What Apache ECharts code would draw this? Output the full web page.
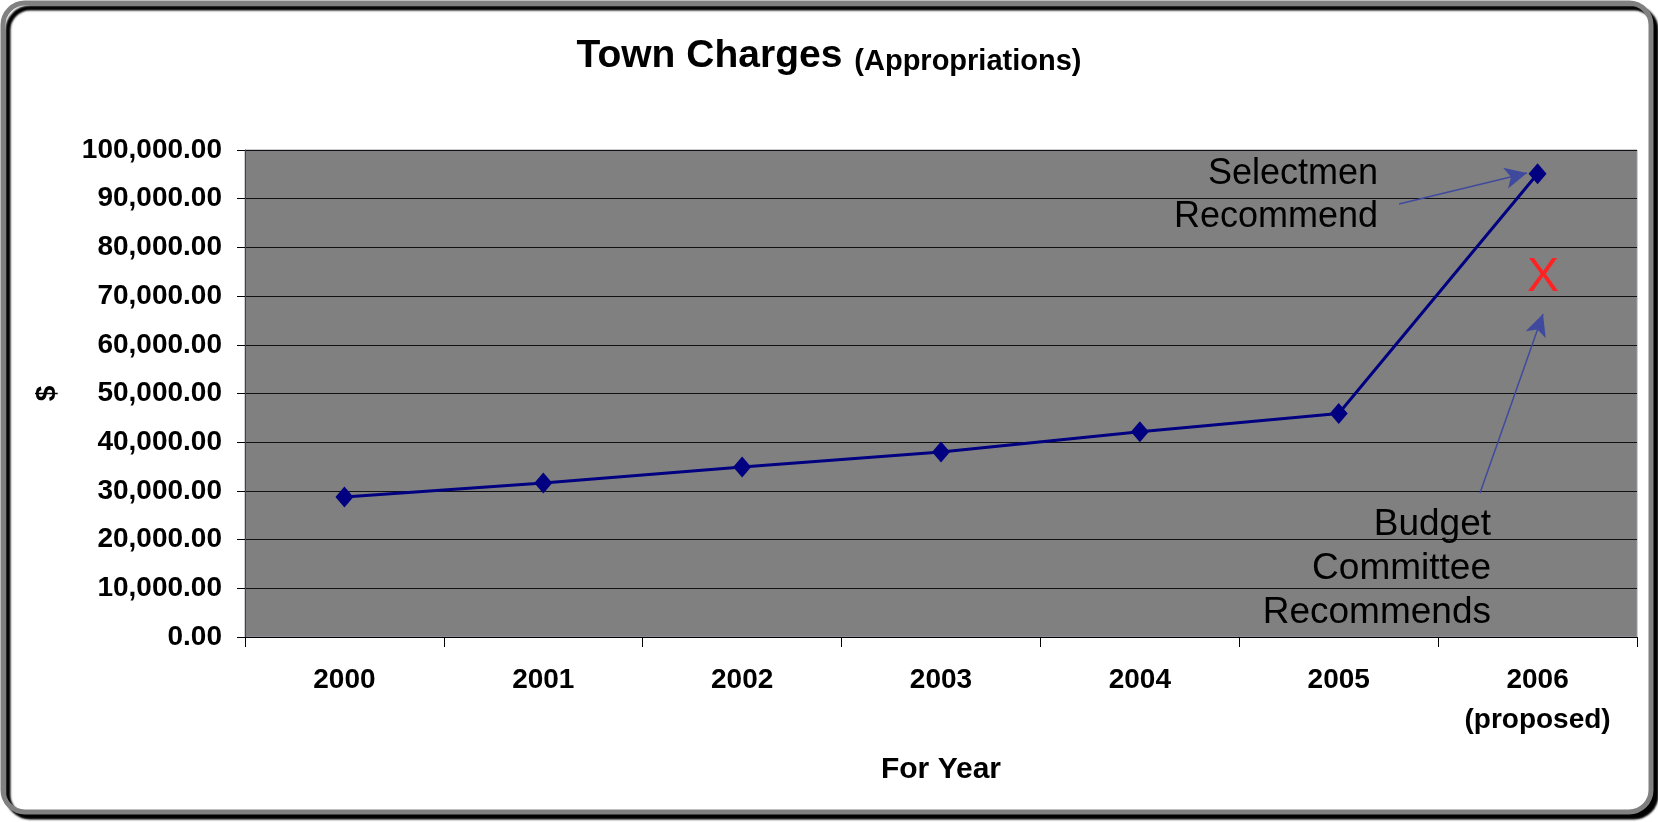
<!DOCTYPE html>
<html>
<head>
<meta charset="utf-8">
<script src="https://cdn.jsdelivr.net/npm/echarts@6/dist/echarts.min.js"></script>
<style>
html,body{margin:0;padding:0;background:#fff;}
#main{width:1658px;height:822px;}
</style>
</head>
<body>
<div id="main"></div>
<script>
// Data
const categories = ['2000', '2001', '2002', '2003', '2004', '2005', '2006\n(proposed)'];
const townCharges = [28770, 31640, 34920, 37990, 42150, 45880, 95120];
const yMin = 0, yMax = 100000, yStep = 10000;

function fmt(v) {
  const s = Math.round(v).toString().replace(/\B(?=(\d{3})+(?!\d))/g, ',');
  return s + '.00';
}

const FONT = '"Liberation Sans", Arial, Helvetica, sans-serif';
const chart = echarts.init(document.getElementById('main'), null, {renderer: 'canvas'});

const option = {
  animation: false,
  backgroundColor: '#ffffff',
  title: {
    left: 'center',
    top: 32,
    text: '{a|Town Charges}{s| }{b|(Appropriations)}',
    textStyle: {
      rich: {
        a: {fontFamily: FONT, fontWeight: 'bold', fontSize: 39, color: '#000'},
        s: {fontFamily: FONT, fontSize: 16, width: 12},
        b: {fontFamily: FONT, fontWeight: 'bold', fontSize: 29, color: '#000', verticalAlign: 'bottom'}
      }
    }
  },
  grid: {
    left: 245, right: 21, top: 150, bottom: 185,
    show: true,
    backgroundColor: '#808080',
    borderColor: '#9a9aaa',
    borderWidth: 1
  },
  xAxis: {
    type: 'category',
    data: categories,
    boundaryGap: true,
    name: 'For Year',
    nameLocation: 'middle',
    nameGap: 118,
    nameTextStyle: {fontFamily: FONT, fontWeight: 'bold', fontSize: 30, color: '#000'},
    axisLine: {show: true, lineStyle: {color: '#000', width: 1}},
    axisTick: {show: true, alignWithLabel: false, length: 10, lineStyle: {color: '#000'}},
    axisLabel: {
      margin: 23, fontFamily: FONT, fontWeight: 'bold', fontSize: 28, color: '#000',
      lineHeight: 40, interval: 0
    },
    splitLine: {show: false}
  },
  yAxis: {
    type: 'value',
    min: yMin, max: yMax, interval: yStep,
    name: '$',
    nameLocation: 'middle',
    nameGap: 184,
    nameTextStyle: {fontFamily: FONT, fontWeight: 'bold', fontSize: 28, color: '#000'},
    axisLine: {show: true, lineStyle: {color: '#444', width: 1}},
    axisTick: {show: true, length: 8, lineStyle: {color: '#000'}},
    axisLabel: {
      margin: 23, fontFamily: FONT, fontWeight: 'bold', fontSize: 28, color: '#000',
      formatter: fmt
    },
    splitLine: {show: true, lineStyle: {color: '#111', width: 1}}
  },
  series: [{
    type: 'line',
    data: townCharges,
    symbol: 'diamond',
    symbolSize: [18, 21],
    lineStyle: {color: '#000080', width: 3},
    itemStyle: {color: '#000080'},
    emphasis: {disabled: true},
    markLine: {
      silent: true,
      symbol: ['none', 'arrow'],
      symbolSize: [16, 22],
      label: {show: false},
      lineStyle: {color: '#3F4A9E', width: 1.5, type: 'solid'},
      data: [
        [{x: 1399, y: 204}, {x: 1527, y: 173}],
        [{x: 1480, y: 493}, {x: 1543, y: 314}]
      ]
    }
  }],
  graphic: [
    {
      type: 'rect', z: -10, silent: true,
      shape: {x: 3, y: 3, width: 1648, height: 809, r: 22},
      style: {fill: '#fff', stroke: '#808080', lineWidth: 5,
        shadowColor: 'rgba(0,0,0,1)', shadowOffsetX: 5, shadowOffsetY: 5, shadowBlur: 2}
    },
    {
      type: 'text', z: 100, silent: true,
      style: {text: 'Selectmen\nRecommend', x: 1378, y: 196, align: 'right', verticalAlign: 'middle',
        fontFamily: FONT, fontSize: 36, lineHeight: 43, fill: '#000'}
    },
    {
      type: 'text', z: 100, silent: true,
      style: {text: 'Budget\nCommittee\nRecommends', x: 1491, y: 569, align: 'right', verticalAlign: 'middle',
        fontFamily: FONT, fontSize: 37, lineHeight: 44, fill: '#000'}
    },
    {
      type: 'text', z: 100, silent: true,
      style: {text: 'X', x: 1543, y: 278, align: 'center', verticalAlign: 'middle',
        fontFamily: FONT, fontSize: 48, fill: '#FF2222'}
    }
  ]
};
chart.setOption(option);
</script>
</body>
</html>
